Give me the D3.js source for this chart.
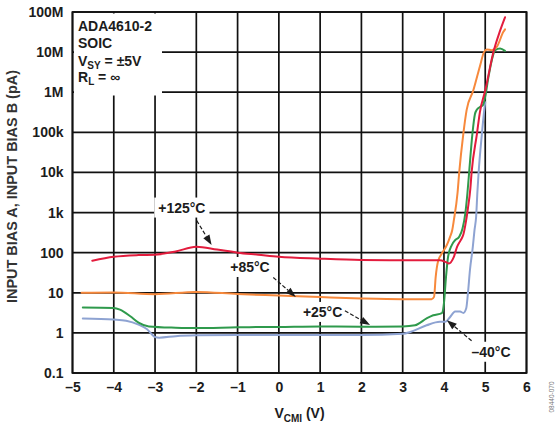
<!DOCTYPE html>
<html>
<head>
<meta charset="utf-8">
<script src="https://cdn.jsdelivr.net/npm/d3@7"></script>
<style>
  html, body { margin: 0; padding: 0; background: #fff; }
  svg { display: block; font-family: "Liberation Sans", Arial, Helvetica, sans-serif; font-weight: bold; }
</style>
</head>
<body>
<svg id="chart" width="557" height="427"></svg>
<script>
// Axis ticks and labels
const xTicks = [-5, -4, -3, -2, -1, 0, 1, 2, 3, 4, 5, 6];
const xTickLabels = ["–5", "–4", "–3", "–2", "–1", "0", "1", "2", "3", "4", "5", "6"];
const yTicks = [0.1, 1, 10, 100, 1e3, 1e4, 1e5, 1e6, 1e7, 1e8];
const yTickLabels = ["0.1", "1", "10", "100", "1k", "10k", "100k", "1M", "10M", "100M"];

// Input bias current (pA) versus common-mode voltage V_CMI (V), one array per temperature
const biasMinus40 = [
  [-4.75, 2.3], [-4.0, 2.15], [-3.7, 2.0], [-3.4, 1.6], [-3.2, 1.25], [-3.0, 0.79], [-2.9, 0.76],
  [-2.5, 0.83], [-2.0, 0.87], [-1.0, 0.89], [0, 0.89], [1, 0.89], [2, 0.88], [3.0, 0.95],
  [3.2, 1.07], [3.58, 1.55], [3.9, 1.9], [4.03, 1.9], [4.15, 2.5], [4.27, 3.4], [4.39, 3.4],
  [4.47, 3.15], [4.54, 4.1], [4.58, 9.5], [4.63, 37], [4.70, 141], [4.74, 363], [4.78, 800],
  [4.81, 3200], [4.84, 10000], [4.92, 93000], [4.97, 316000], [5.0, 560000]
];
const bias25 = [
  [-4.75, 4.3], [-4.0, 4.2], [-3.85, 3.8], [-3.6, 2.6], [-3.4, 1.8], [-3.15, 1.45], [-2.5, 1.35],
  [-2.0, 1.32], [-1.0, 1.38], [0, 1.41], [1, 1.45], [2, 1.43], [3, 1.45], [3.3, 1.55],
  [3.58, 2.3], [3.74, 2.75], [3.95, 3.1], [4.0, 5.5], [4.05, 25], [4.10, 79], [4.19, 155],
  [4.27, 204], [4.37, 251], [4.45, 400], [4.52, 1000], [4.57, 3160], [4.61, 10000],
  [4.69, 93000], [4.75, 282000], [4.80, 372000], [4.87, 427000], [4.94, 468000], [5.0, 776000],
  [5.08, 2.45e6], [5.16, 6.3e6], [5.24, 1.12e7], [5.36, 1.23e7], [5.48, 1.07e7]
];
const bias85 = [
  [-4.78, 10], [-4.0, 10.2], [-3.0, 9.2], [-2.0, 10.5], [-1.0, 9.3], [0, 8.5], [1, 7.8],
  [2, 7.2], [3, 6.9], [3.7, 6.9], [3.76, 7.9], [3.80, 25], [3.86, 63], [3.95, 95], [4.07, 155],
  [4.15, 251], [4.20, 363], [4.24, 646], [4.33, 3160], [4.37, 10000], [4.47, 93000],
  [4.55, 363000], [4.71, 1.1e6], [4.87, 4.4e6], [4.97, 1.0e7], [5.04, 1.17e7], [5.16, 1.12e7],
  [5.28, 1.35e7], [5.44, 3.2e7], [5.48, 3.7e7]
];
const bias125 = [
  [-4.52, 63], [-4.0, 79], [-3.4, 87], [-3.0, 89], [-2.5, 107], [-2.0, 141], [-1.5, 120],
  [-1.0, 100], [-0.5, 89], [0, 79], [1, 71], [2, 66], [3, 65], [3.9, 65], [4.05, 58],
  [4.12, 54], [4.24, 79], [4.32, 141], [4.40, 200], [4.47, 282], [4.52, 500], [4.58, 1260],
  [4.64, 4000], [4.67, 10000], [4.80, 93000], [4.87, 316000], [5.0, 1.1e6], [5.2, 1.02e7],
  [5.35, 3.2e7], [5.48, 7.4e7]
];

const series = [
  { name: "–40°C", color: "#8ea3d2", values: biasMinus40 },
  { name: "+25°C", color: "#2f9a4c", values: bias25 },
  { name: "+85°C", color: "#f7893c", values: bias85 },
  { name: "+125°C", color: "#e31c3d", values: bias125 }
];

// Curve call-outs: label anchor (baseline centre) and arrow start/tip, in data units
const callouts = [
  { text: "+125°C", at: [-2.35, 1000], from: [-1.99, 630], to: [-1.63, 155] },
  { text: "+85°C", at: [-0.70, 33], from: [-0.135, 24], to: [0.41, 7.9] },
  { text: "+25°C", at: [1.06, 2.5], from: [1.60, 3.56], to: [2.21, 1.57] },
  { text: "–40°C", at: [5.14, 0.254], from: [4.67, 0.635], to: [4.07, 2.08] }
];

const ink = "#1c1c1c";
const plotL = 72.5, plotR = 526.5, plotT = 12, plotB = 373;

const svg = d3.select("#chart");
const x = d3.scaleLinear().domain([-5, 6]).range([plotL, plotR]);
const y = d3.scaleLog().domain([0.1, 1e8]).range([plotB, plotT]);

// Grid
const grid = svg.append("g").attr("stroke", "#111").attr("stroke-width", 1.7);
grid.selectAll("line.v").data(xTicks).join("line").attr("class", "v")
  .attr("x1", d => x(d)).attr("x2", d => x(d)).attr("y1", plotT).attr("y2", plotB);
grid.selectAll("line.h").data(yTicks).join("line").attr("class", "h")
  .attr("x1", plotL).attr("x2", plotR).attr("y1", d => y(d)).attr("y2", d => y(d));

// Axes (labels only; the grid carries the lines)
const yAxis = svg.append("g").attr("transform", `translate(${plotL},0)`)
  .call(d3.axisLeft(y).tickValues(yTicks).tickFormat((d, i) => yTickLabels[i]).tickSize(0).tickPadding(9));
const xAxis = svg.append("g").attr("transform", `translate(0,${plotB})`)
  .call(d3.axisBottom(x).tickValues(xTicks).tickFormat((d, i) => xTickLabels[i]).tickSize(0).tickPadding(9));
[yAxis, xAxis].forEach(a => {
  a.select(".domain").remove();
  a.selectAll("text").attr("font-size", 14).attr("font-weight", "bold")
    .attr("font-family", "'Liberation Sans', Arial, sans-serif").attr("fill", ink);
});

// Info panel in the upper-left corner
svg.append("rect").attr("x", plotL + 1.5).attr("y", plotT + 1.5).attr("width", 88).attr("height", 82).attr("fill", "#fff");
const info = svg.append("g").attr("font-size", 14).attr("fill", ink);
info.append("text").attr("x", 78).attr("y", 31).text("ADA4610-2");
info.append("text").attr("x", 78).attr("y", 48).text("SOIC");
const vsy = info.append("text").attr("x", 78).attr("y", 65.5);
vsy.append("tspan").text("V");
vsy.append("tspan").attr("dy", 3).attr("font-size", 10).text("SY");
vsy.append("tspan").attr("dy", -3).text(" = ±5V");
const rl = info.append("text").attr("x", 78).attr("y", 81.5);
rl.append("tspan").text("R");
rl.append("tspan").attr("dy", 3).attr("font-size", 10).text("L");
rl.append("tspan").attr("dy", -3).text(" = ∞");

// Call-out label backgrounds
const co = svg.append("g");
callouts.forEach(c => {
  const cx = x(c.at[0]), by = y(c.at[1]);
  const t = co.append("text").attr("x", cx).attr("y", by).attr("text-anchor", "middle")
    .attr("font-size", 14).attr("fill", ink).text(c.text);
  const w = t.node().getComputedTextLength();
  t.remove();
  co.append("rect").attr("x", cx - w / 2 - 4).attr("y", by - 15).attr("width", w + 8).attr("height", 20).attr("fill", "#fff");
});

// Curves
const line = d3.line().x(d => x(d[0])).y(d => y(d[1])).curve(d3.curveMonotoneX);
svg.append("g").selectAll("path").data(series).join("path")
  .attr("d", d => line(d.values))
  .attr("fill", "none").attr("stroke", d => d.color).attr("stroke-width", 2)
  .attr("stroke-linejoin", "round").attr("stroke-linecap", "round");

// Frame
svg.append("rect").attr("x", plotL).attr("y", plotT).attr("width", plotR - plotL).attr("height", plotB - plotT)
  .attr("fill", "none").attr("stroke", "#111").attr("stroke-width", 1.8);

// Call-out texts and arrows
const ann = svg.append("g");
callouts.forEach(c => {
  ann.append("text").attr("x", x(c.at[0])).attr("y", y(c.at[1])).attr("text-anchor", "middle")
    .attr("font-size", 14).attr("fill", ink).text(c.text);
  const x0 = x(c.from[0]), y0 = y(c.from[1]), x1 = x(c.to[0]), y1 = y(c.to[1]);
  const dx = x1 - x0, dy = y1 - y0, len = Math.hypot(dx, dy);
  const ux = dx / len, uy = dy / len, head = 10, half = 3.6;
  const bx = x1 - ux * head, by = y1 - uy * head;
  ann.append("line").attr("x1", x0).attr("y1", y0).attr("x2", bx).attr("y2", by)
    .attr("stroke", ink).attr("stroke-width", 1.2).attr("stroke-dasharray", "4,2");
  ann.append("path")
    .attr("d", `M${x1},${y1}L${bx - uy * half},${by + ux * half}L${bx + uy * half},${by - ux * half}Z`)
    .attr("fill", ink);
});

// Axis titles
svg.append("text")
  .attr("transform", `translate(17,${(70 + 303) / 2}) rotate(-90)`)
  .attr("text-anchor", "middle").attr("font-size", 14.5).attr("fill", "#333")
  .attr("textLength", 233).attr("lengthAdjust", "spacingAndGlyphs")
  .text("INPUT BIAS A, INPUT BIAS B (pA)");

const xt = svg.append("text").attr("x", (plotL + plotR) / 2).attr("y", 418)
  .attr("text-anchor", "middle").attr("font-size", 14).attr("fill", ink);
xt.append("tspan").text("V");
xt.append("tspan").attr("dy", 3.5).attr("font-size", 10).text("CMI");
xt.append("tspan").attr("dy", -3.5).text(" (V)");

// Figure code
svg.append("text").attr("transform", "translate(554,397) rotate(-90)")
  .attr("text-anchor", "middle").attr("font-size", 6.5).attr("font-weight", "normal")
  .attr("fill", "#777").text("08440-070");
</script>
</body>
</html>
